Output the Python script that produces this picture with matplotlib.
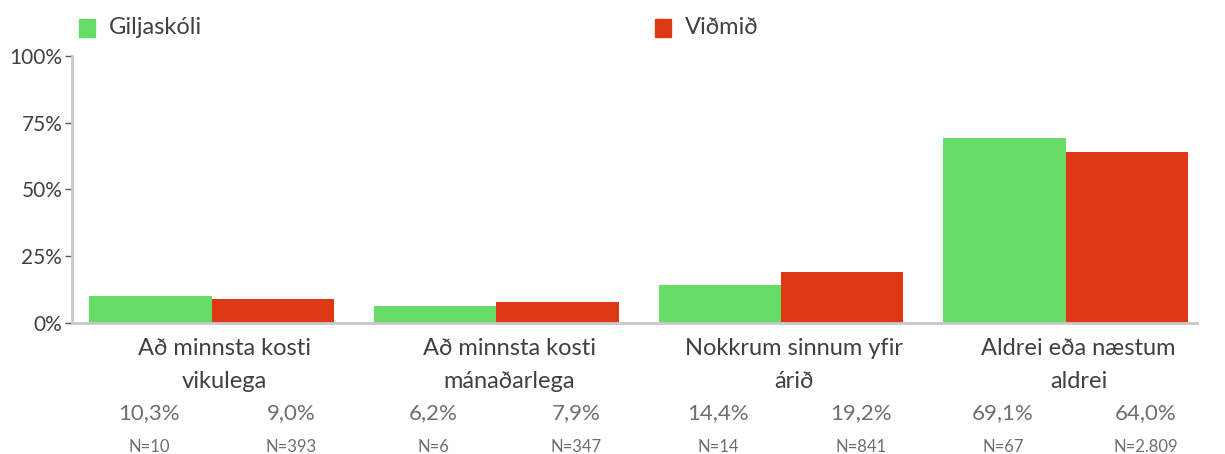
import matplotlib
matplotlib.use("Agg")
import matplotlib.pyplot as plt
import numpy as np

plt.rcParams['font.family'] = ['Lato', 'DejaVu Sans']

# survey answers, two groups
categories = ["Að minnsta kosti\nvikulega", "Að minnsta kosti\nmánaðarlega",
              "Nokkrum sinnum yfir\nárið", "Aldrei eða næstum\naldrei"]
series_names = ["Giljaskóli", "Viðmið"]
school_pct = [10.3, 6.2, 14.4, 69.1]
bench_pct = [9.0, 7.9, 19.2, 64.0]
school_n = ["10", "6", "14", "67"]
bench_n = ["393", "347", "841", "2.809"]
yticks = [0, 25, 50, 75, 100]

green = "#66DD66"
red = "#DE3914"
txt = "#404040"
grey = "#6e6e6e"

fig = plt.figure(figsize=(12.25, 4.54), dpi=100)
ax = fig.add_axes([0.0588, 0.2885, 0.918, 0.5882])

x = np.arange(len(categories))
w = 0.43
ax.bar(x - w / 2, school_pct, width=w, color=green, zorder=2)
ax.bar(x + w / 2, bench_pct, width=w, color=red, zorder=2)

ax.set_xlim(-0.49, 3.46)
ax.set_ylim(0, 100)
ax.set_yticks(yticks)
ax.set_yticklabels([f"{t}%" for t in yticks], fontsize=15, color=txt)
ax.tick_params(axis='y', length=5, width=1, color="#555555", pad=2)
ax.set_xticks([])

for s in ["top", "right"]:
    ax.spines[s].set_visible(False)
for s in ["left", "bottom"]:
    ax.spines[s].set_color("#c8c8c8")
    ax.spines[s].set_linewidth(2)

# category names and value rows below the axis (offsets in points)
for i in range(len(categories)):
    ax.annotate(categories[i], xy=(i + 0.045, 0), xycoords=('data', 'axes fraction'),
                xytext=(0, -10.5), textcoords='offset points', ha='center', va='top',
                fontsize=17, color=txt, linespacing=1.72)
    for dx, val, n in [(-0.22, school_pct[i], school_n[i]), (0.28, bench_pct[i], bench_n[i])]:
        lab = f"{val:.1f}%".replace(".", ",")
        ax.annotate(lab, xy=(i + dx, 0), xycoords=('data', 'axes fraction'),
                    xytext=(0, -65), textcoords='offset points', ha='center', va='center',
                    fontsize=16, color=grey)
        ax.annotate("N=" + n, xy=(i + dx, 0), xycoords=('data', 'axes fraction'),
                    xytext=(0, -89), textcoords='offset points', ha='center', va='center',
                    fontsize=12, color=grey)

# legend drawn as squares and labels on top
for xs, col, name in [(79, green, series_names[0]), (655, red, series_names[1])]:
    fig.patches.append(plt.Rectangle((xs / 1225, 1 - 37 / 454), 16 / 1225, 18 / 454,
                                     transform=fig.transFigure, color=col))
    fig.text((xs + 30) / 1225, 1 - 27 / 454, name, fontsize=17, color=txt,
             va='center', ha='left')

fig.savefig("out.png", dpi=100)
